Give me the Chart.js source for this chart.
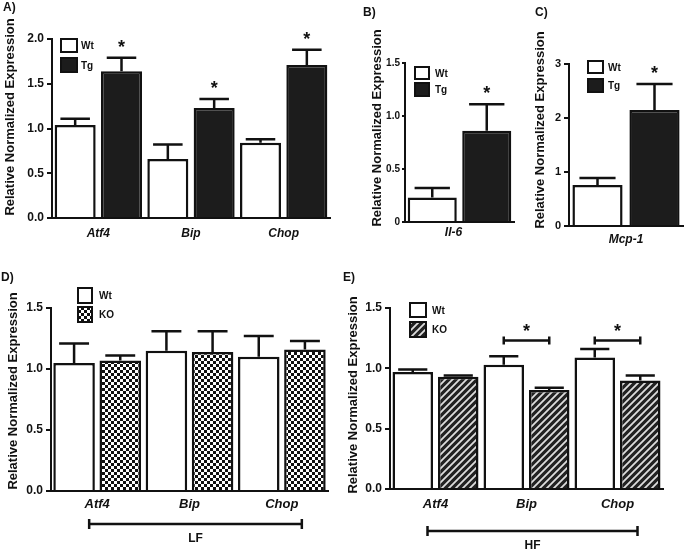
<!DOCTYPE html>
<html>
<head>
<meta charset="utf-8">
<title>Relative normalized expression</title>
<script src="https://cdn.jsdelivr.net/npm/chart.js@4.4.1/dist/chart.umd.min.js"></script>
<style>
  html, body { margin: 0; padding: 0; background: #fff; }
  #fig { position: relative; width: 685px; height: 551px; overflow: hidden; }
  #fig canvas { position: absolute; }
</style>
</head>
<body>
<div id="fig">
  <canvas id="panelA" width="345" height="265" style="left:0px;top:0px"></canvas>
  <canvas id="panelB" width="167" height="255" style="left:358px;top:0px"></canvas>
  <canvas id="panelC" width="160" height="255" style="left:525px;top:0px"></canvas>
  <canvas id="panelD" width="340" height="283" style="left:0px;top:268px"></canvas>
  <canvas id="panelE" width="345" height="283" style="left:340px;top:268px"></canvas>
</div>
<script>
// A) ER stress genes, Wt vs Tg
const aGenes = ['Atf4', 'Bip', 'Chop'];
const aWt = [1.04, 0.66, 0.84];
const aWtSem = [0.07, 0.16, 0.04];
const aTg = [1.64, 1.23, 1.71];
const aTgSem = [0.15, 0.10, 0.17];
const aStars = [true, true, true];

// B) Il-6
const bGenes = ['Il-6'];
const bWt = [0.23];
const bWtSem = [0.09];
const bTg = [0.86];
const bTgSem = [0.25];
const bStars = [true];

// C) Mcp-1
const cGenes = ['Mcp-1'];
const cWt = [0.76];
const cWtSem = [0.13];
const cTg = [2.15];
const cTgSem = [0.48];
const cStars = [true];

// D) LF diet, Wt vs KO
const dGenes = ['Atf4', 'Bip', 'Chop'];
const dWt = [1.05, 1.15, 1.10];
const dWtSem = [0.16, 0.16, 0.17];
const dKo = [1.07, 1.14, 1.16];
const dKoSem = [0.04, 0.17, 0.07];

// E) HF diet, Wt vs KO
const eGenes = ['Atf4', 'Bip', 'Chop'];
const eWt = [0.97, 1.03, 1.09];
const eWtSem = [0.02, 0.07, 0.07];
const eKo = [0.93, 0.82, 0.90];
const eKoSem = [0.01, 0.02, 0.04];
const eSig = [null, 1.23, 1.23];

const INK = '#111';
const FONT = '"Liberation Sans", Arial, sans-serif';

function checkerPattern() {
  const c = document.createElement('canvas');
  c.width = 6; c.height = 6;
  const g = c.getContext('2d');
  g.fillStyle = '#fff';
  g.fillRect(0, 0, 6, 6);
  g.fillStyle = '#111';
  g.fillRect(0, 0, 3, 3);
  g.fillRect(3, 3, 3, 3);
  return g.createPattern(c, 'repeat');
}

function stripePattern() {
  const s = 7;
  const c = document.createElement('canvas');
  c.width = s; c.height = s;
  const g = c.getContext('2d');
  g.fillStyle = '#222';
  g.fillRect(0, 0, s, s);
  g.strokeStyle = '#ddd';
  g.lineWidth = 1.8;
  g.beginPath();
  g.moveTo(-1, s + 1); g.lineTo(s + 1, -1);
  g.moveTo(-1, 1); g.lineTo(1, -1);
  g.moveTo(s - 1, s + 1); g.lineTo(s + 1, s - 1);
  g.stroke();
  return g.createPattern(c, 'repeat');
}

// error bars (mean + sem) and stars over them
const errorBars = {
  id: 'errorBars',
  afterDatasetsDraw(chart) {
    const ctx = chart.ctx;
    const y = chart.scales.y;
    chart.data.datasets.forEach((ds, i) => {
      if (!ds.sem) return;
      chart.getDatasetMeta(i).data.forEach((bar, j) => {
        const top = y.getPixelForValue(ds.data[j] + ds.sem[j]);
        const half = bar.width * 0.36;
        ctx.save();
        ctx.strokeStyle = INK;
        ctx.lineWidth = 2.5;
        ctx.beginPath();
        ctx.moveTo(bar.x, bar.y);
        ctx.lineTo(bar.x, top);
        ctx.moveTo(bar.x - half, top);
        ctx.lineTo(bar.x + half, top);
        ctx.stroke();
        if (ds.stars && ds.stars[j]) {
          ctx.fillStyle = INK;
          ctx.font = 'bold 18px ' + FONT;
          ctx.textAlign = 'center';
          ctx.textBaseline = 'alphabetic';
          ctx.fillText('*', bar.x, top - 5);
        }
        ctx.restore();
      });
    });
  }
};

// panel letter, y title, legend, brackets
function makeDecor(spec) {
  return {
    id: 'decor',
    afterDraw(chart) {
      const ctx = chart.ctx;
      ctx.save();
      ctx.fillStyle = INK;
      ctx.font = 'bold 12px ' + FONT;
      ctx.textAlign = 'left';
      ctx.textBaseline = 'middle';
      ctx.fillText(spec.letter, spec.letterAt[0], spec.letterAt[1]);

      ctx.save();
      ctx.translate(spec.titleAt[0], spec.titleAt[1]);
      ctx.rotate(-Math.PI / 2);
      ctx.textAlign = 'center';
      ctx.font = 'bold 13px ' + FONT;
      ctx.fillText('Relative Normalized Expression', 0, 0);
      ctx.restore();

      chart.data.datasets.forEach((ds, i) => {
        const b = spec.boxes[i];
        ctx.fillStyle = ds.backgroundColor;
        ctx.fillRect(b[0], b[1], b[2], b[3]);
        ctx.strokeStyle = INK;
        ctx.lineWidth = 2;
        ctx.strokeRect(b[0], b[1], b[2], b[3]);
        ctx.fillStyle = INK;
        ctx.font = 'bold 10px ' + FONT;
        ctx.textAlign = 'left';
        ctx.fillText(ds.label, spec.legendTextX, b[1] + b[3] / 2 + 1);
      });

      const xs = chart.scales.x;
      const ys = chart.scales.y;
      if (spec.group) {
        const x0 = xs.getPixelForValue(0) - 8;
        const x1 = xs.getPixelForValue(chart.data.labels.length - 1) + 20;
        const gy = chart.chartArea.bottom + spec.groupGap;
        ctx.strokeStyle = INK;
        ctx.lineWidth = 2.5;
        ctx.beginPath();
        ctx.moveTo(x0, gy); ctx.lineTo(x1, gy);
        ctx.moveTo(x0, gy - 5); ctx.lineTo(x0, gy + 5);
        ctx.moveTo(x1, gy - 5); ctx.lineTo(x1, gy + 5);
        ctx.stroke();
        ctx.fillStyle = INK;
        ctx.font = 'bold 12px ' + FONT;
        ctx.textAlign = 'center';
        ctx.fillText(spec.group, (x0 + x1) / 2, gy + 15);
      }

      if (spec.sig) {
        const m0 = chart.getDatasetMeta(0).data;
        const m1 = chart.getDatasetMeta(1).data;
        spec.sig.forEach((v, j) => {
          if (v === null) return;
          const sy = ys.getPixelForValue(v);
          ctx.strokeStyle = INK;
          ctx.lineWidth = 2.5;
          ctx.beginPath();
          ctx.moveTo(m0[j].x, sy); ctx.lineTo(m1[j].x, sy);
          ctx.moveTo(m0[j].x, sy - 4); ctx.lineTo(m0[j].x, sy + 4);
          ctx.moveTo(m1[j].x, sy - 4); ctx.lineTo(m1[j].x, sy + 4);
          ctx.stroke();
          ctx.fillStyle = INK;
          ctx.font = 'bold 18px ' + FONT;
          ctx.textAlign = 'center';
          ctx.textBaseline = 'alphabetic';
          ctx.fillText('*', (m0[j].x + m1[j].x) / 2, sy - 4);
        });
      }
      ctx.restore();
    }
  };
}

function makePanel(id, p) {
  return new Chart(document.getElementById(id), {
    type: 'bar',
    data: {
      labels: p.labels,
      datasets: p.datasets.map(d => Object.assign({
        borderColor: INK,
        borderWidth: 2.5,
        barPercentage: p.barPct,
        categoryPercentage: 1
      }, d))
    },
    options: {
      responsive: false,
      animation: false,
      events: [],
      layout: { padding: p.padding },
      plugins: { legend: { display: false }, tooltip: { enabled: false } },
      scales: {
        x: {
          afterFit: s => { s.height = p.xH; },
          border: { display: true, color: INK, width: 2 },
          grid: { display: false, drawTicks: false },
          ticks: {
            color: INK,
            padding: p.xPad,
            labelOffset: p.labelOffset || 0,
            font: { family: FONT, size: p.xSize, style: 'italic', weight: 'bold' }
          }
        },
        y: {
          min: 0,
          max: p.yMax,
          afterFit: s => { s.width = p.yW; },
          border: { display: true, color: INK, width: 2 },
          grid: { display: true, drawOnChartArea: false, drawTicks: true, tickLength: p.tickLen || 5, color: INK, lineWidth: 2 },
          ticks: {
            stepSize: p.step,
            color: INK,
            padding: p.tickPad || 3,
            font: { family: FONT, size: p.ySize, weight: 'bold' },
            callback: p.fmt
          }
        }
      }
    },
    plugins: [errorBars, makeDecor(p.decor)]
  });
}

const white = '#ffffff';
const black = '#1c1c1c';
const checks = checkerPattern();
const stripes = stripePattern();
const oneDec = v => v.toFixed(1);

makePanel('panelA', {
  labels: aGenes,
  datasets: [
    { label: 'Wt', data: aWt, sem: aWtSem, backgroundColor: white },
    { label: 'Tg', data: aTg, sem: aTgSem, stars: aStars, backgroundColor: black }
  ],
  barPct: 0.885, yMax: 2, step: 0.5, fmt: oneDec, ySize: 12, xSize: 12,
  yW: 50, xH: 30, xPad: 8,
  padding: { left: 2, right: 15, top: 39, bottom: 17 },
  decor: { letter: 'A)', letterAt: [3, 8], titleAt: [10, 117],
           boxes: [[61, 39, 16, 13], [61, 58, 16, 14]], legendTextX: 81 }
});

makePanel('panelB', {
  labels: bGenes,
  datasets: [
    { label: 'Wt', data: bWt, sem: bWtSem, backgroundColor: white },
    { label: 'Tg', data: bTg, sem: bTgSem, stars: bStars, backgroundColor: black }
  ],
  barPct: 0.9, yMax: 1.5, step: 0.5, fmt: v => (v === 0 ? '0' : v.toFixed(1)), ySize: 10, xSize: 12,
  yW: 45, xH: 25, xPad: 3, labelOffset: -6, tickLen: 3, tickPad: 2,
  padding: { left: 2, right: 11, top: 63, bottom: 8 },
  decor: { letter: 'B)', letterAt: [5, 13], titleAt: [19, 128],
           boxes: [[57, 67, 14, 12], [57, 83, 14, 13]], legendTextX: 77 }
});

makePanel('panelC', {
  labels: cGenes,
  datasets: [
    { label: 'Wt', data: cWt, sem: cWtSem, backgroundColor: white },
    { label: 'Tg', data: cTg, sem: cTgSem, stars: cStars, backgroundColor: black }
  ],
  barPct: 0.88, yMax: 3, step: 1, fmt: v => String(v), ySize: 11, xSize: 12,
  yW: 42, xH: 25, xPad: 6,
  padding: { left: 2, right: 2, top: 64, bottom: 4 },
  decor: { letter: 'C)', letterAt: [10, 13], titleAt: [15, 130],
           boxes: [[63, 61, 15, 12], [63, 79, 15, 13]], legendTextX: 83 }
});

makePanel('panelD', {
  labels: dGenes,
  datasets: [
    { label: 'Wt', data: dWt, sem: dWtSem, backgroundColor: white },
    { label: 'KO', data: dKo, sem: dKoSem, backgroundColor: checks }
  ],
  barPct: 0.9, yMax: 1.5, step: 0.5, fmt: oneDec, ySize: 12, xSize: 13,
  yW: 49, xH: 25, xPad: 6,
  padding: { left: 2, right: 12, top: 40, bottom: 35 },
  decor: { letter: 'D)', letterAt: [1, 10], titleAt: [13, 123],
           boxes: [[78, 20, 14, 15], [78, 39, 14, 15]], legendTextX: 99,
           group: 'LF', groupGap: 33 }
});

makePanel('panelE', {
  labels: eGenes,
  datasets: [
    { label: 'Wt', data: eWt, sem: eWtSem, backgroundColor: white },
    { label: 'KO', data: eKo, sem: eKoSem, backgroundColor: stripes }
  ],
  barPct: 0.89, yMax: 1.5, step: 0.5, fmt: oneDec, ySize: 12, xSize: 13,
  yW: 48, xH: 25, xPad: 8,
  padding: { left: 2, right: 22, top: 40, bottom: 37 },
  decor: { letter: 'E)', letterAt: [3, 10], titleAt: [13, 127],
           boxes: [[70, 35, 16, 14], [70, 54, 16, 15]], legendTextX: 92,
           group: 'HF', groupGap: 42, sig: eSig }
});
</script>
</body>
</html>
